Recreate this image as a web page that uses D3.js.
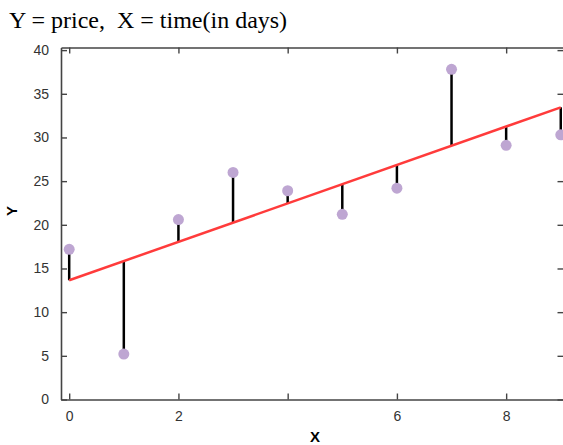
<!DOCTYPE html>
<html><head><meta charset="utf-8">
<script src="https://cdn.jsdelivr.net/npm/d3@7"></script>
<style>body{margin:0;background:#fff;overflow:hidden}svg{display:block}</style>
</head><body>
<script>
const xValues = [0, 1, 2, 3, 4, 5, 6, 7, 8, 9];
const yValues = [17.2, 5.2, 20.6, 26.0, 23.9, 21.2, 24.2, 37.8, 29.1, 30.3];
const xTicks = [0, 2, 4, 6, 8];
const xTickLabels = ["0", "2", "", "6", "8"];
const yTicks = [0, 5, 10, 15, 20, 25, 30, 35, 40];
const titleText = "Y = price,  X = time(in days)";

const W = 563, H = 445;
const L = 61, R = 563.5, T = 47.5, B = 399.5;
const svg = d3.select("body").append("svg").attr("width", W).attr("height", H);

const x = d3.scaleLinear().domain([-0.15, 9.05]).range([L, R]);
const y = d3.scaleLinear().domain([0, 40.3]).range([B, T]);

// least squares fit from data
const mx = d3.mean(xValues), my = d3.mean(yValues);
const slope = d3.sum(xValues, (v, i) => (v - mx) * (yValues[i] - my)) / d3.sum(xValues, v => (v - mx) ** 2);
const intercept = my - slope * mx;
const fit = v => intercept + slope * v;

const axisColor = "#444";
function styleAxis(g) {
  g.selectAll(".domain").attr("stroke", axisColor).attr("stroke-width", 1.6);
  g.selectAll(".tick line").attr("stroke", axisColor).attr("stroke-width", 1.4);
  g.selectAll("text").attr("font-family", "Liberation Sans, Arial, sans-serif").attr("font-size", 14).attr("fill", "#333");
}

const gB = svg.append("g").attr("transform", `translate(0,${B})`)
  .call(d3.axisBottom(x).tickValues(xTicks).tickSizeInner(-6).tickSizeOuter(0).tickPadding(12)
    .tickFormat((d, i) => xTickLabels[i]));
styleAxis(gB);
const gT = svg.append("g").attr("transform", `translate(0,${T})`)
  .call(d3.axisTop(x).tickValues(xTicks).tickSizeInner(-6).tickSizeOuter(0).tickFormat(""));
styleAxis(gT);
const gL = svg.append("g").attr("transform", `translate(${L},0)`)
  .call(d3.axisLeft(y).tickValues(yTicks).tickSizeInner(-6).tickSizeOuter(0).tickPadding(12));
styleAxis(gL);
const gR = svg.append("g").attr("transform", `translate(${R},0)`)
  .call(d3.axisRight(y).tickValues(yTicks).tickSizeInner(-6).tickSizeOuter(0).tickFormat(""));
styleAxis(gR);

svg.append("g").selectAll("line").data(xValues).join("line")
  .attr("x1", d => x(d)).attr("x2", d => x(d))
  .attr("y1", (d, i) => y(yValues[i])).attr("y2", d => y(fit(d)))
  .attr("stroke", "#000").attr("stroke-width", 2.5);

svg.append("line")
  .attr("x1", x(xValues[0])).attr("y1", y(fit(xValues[0])))
  .attr("x2", x(xValues[xValues.length - 1])).attr("y2", y(fit(xValues[xValues.length - 1])))
  .attr("stroke", "#ff3b3b").attr("stroke-width", 2.5);

svg.append("g").selectAll("circle").data(xValues).join("circle")
  .attr("cx", d => x(d)).attr("cy", (d, i) => y(yValues[i])).attr("r", 5.5)
  .attr("fill", "#bea6d2");

svg.append("text").attr("x", 9).attr("y", 28).text(titleText)
  .style("white-space", "pre").attr("xml:space", "preserve")
  .attr("font-family", "Liberation Serif, Times New Roman, serif").attr("font-size", 24).attr("fill", "#000");

svg.append("text").attr("x", 315).attr("y", 442).attr("text-anchor", "middle").text("X")
  .attr("font-family", "Liberation Sans, Arial, sans-serif").attr("font-weight", "bold").attr("font-size", 15);
svg.append("text").attr("transform", "translate(17,211) rotate(-90)").attr("text-anchor", "middle").text("Y")
  .attr("font-family", "Liberation Sans, Arial, sans-serif").attr("font-weight", "bold").attr("font-size", 15);
</script>
</body></html>
